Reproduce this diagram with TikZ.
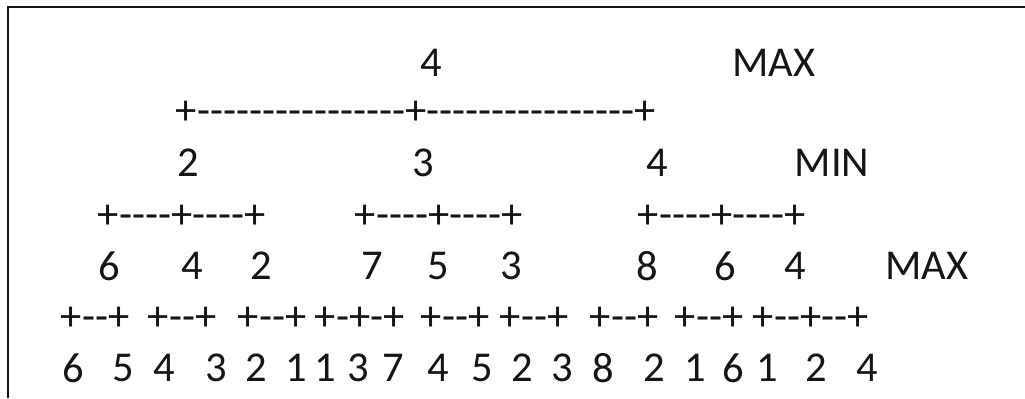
\documentclass[tikz,border=0pt]{standalone}
\usepackage{fontspec}
\setmainfont{Carlito}
\usetikzlibrary{positioning}
\definecolor{ink}{HTML}{151515}
% a run of plain hyphens, kept apart so they stay hyphens
\newcommand\hy[1]{\foreach\k in {1,...,#1}{-\kern0pt}}

\begin{document}
\begin{tikzpicture}[font=\fontsize{24.2}{29}\selectfont,
  v/.style={inner sep=0pt, text=ink},
  bar/.style={inner sep=0pt, anchor=west, text=ink},
]
\useasboundingbox (0,0) rectangle (20.5,-7.96);
\draw[ink, line width=0.05cm] (0.16,-7.96) |- (20.5,-0.14);

% level 0
\node[v] (R) at (8.62,-1.26) {4};
\node[v] (L0) at (15.48,-1.26) {MAX};
\node[bar] (E0) at (3.51,-2.26) {+\hy{16}+\hy{16}+};

% level 1
\node[v] (A1) at (3.76,-3.26) {2};
\node[v] (A2) at (8.46,-3.26) {3};
\node[v] (A3) at (13.14,-3.26) {4};
\node[v] (L1) at (16.64,-3.26) {MIN};
\node[bar] (E1) at (1.95,-4.34) {+\hy{4}+\hy{4}+};
\node[bar] (E2) at (7.09,-4.34) {+\hy{4}+\hy{4}+};
\node[bar] (E3) at (12.75,-4.34) {+\hy{4}+\hy{4}+};

% level 2
\node[v] (B1) at (2.18,-5.32) {6};
\node[v] (B2) at (3.84,-5.32) {4};
\node[v] (B3) at (5.22,-5.32) {2};
\node[v] (B4) at (7.44,-5.32) {7};
\node[v] (B5) at (8.76,-5.32) {5};
\node[v] (B6) at (10.22,-5.32) {3};
\node[v] (B7) at (12.94,-5.32) {8};
\node[v] (B8) at (14.50,-5.32) {6};
\node[v] (B9) at (15.90,-5.32) {4};
\node[v] (L2) at (18.54,-5.32) {MAX};
\node[bar] (F1) at (1.21,-6.38) {+\hy{2}+};
\node[bar] (F2) at (2.95,-6.38) {+\hy{2}+};
\node[bar] (F3) at (4.75,-6.38) {+\hy{2}+};
\node[bar] (F4) at (6.29,-6.38) {+\hy{1}+\hy{1}+};
\node[bar] (F5) at (8.41,-6.38) {+\hy{2}+};
\node[bar] (F6) at (9.99,-6.38) {+\hy{2}+};
\node[bar] (F7) at (11.79,-6.38) {+\hy{2}+};
\node[bar] (F8) at (13.49,-6.38) {+\hy{2}+};
\node[bar] (F9) at (15.05,-6.38) {+\hy{2}+\hy{2}+};

% leaves
\node[v] (C1) at (1.46,-7.36) {6};
\node[v] (C2) at (2.46,-7.36) {5};
\node[v] (C3) at (3.28,-7.36) {4};
\node[v] (C4) at (4.32,-7.36) {3};
\node[v] (C5) at (5.12,-7.36) {2};
\node[v] (C6) at (5.92,-7.36) {1};
\node[v] (C7) at (6.50,-7.36) {1};
\node[v] (C8) at (7.16,-7.36) {3};
\node[v] (C9) at (7.86,-7.36) {7};
\node[v] (C10) at (8.76,-7.36) {4};
\node[v] (C11) at (9.64,-7.36) {5};
\node[v] (C12) at (10.44,-7.36) {2};
\node[v] (C13) at (11.24,-7.36) {3};
\node[v] (C14) at (12.06,-7.36) {8};
\node[v] (C15) at (13.08,-7.36) {2};
\node[v] (C16) at (13.90,-7.36) {1};
\node[v] (C17) at (14.66,-7.36) {6};
\node[v] (C18) at (15.34,-7.36) {1};
\node[v] (C19) at (16.32,-7.36) {2};
\node[v] (C20) at (17.34,-7.36) {4};
\end{tikzpicture}
\end{document}
